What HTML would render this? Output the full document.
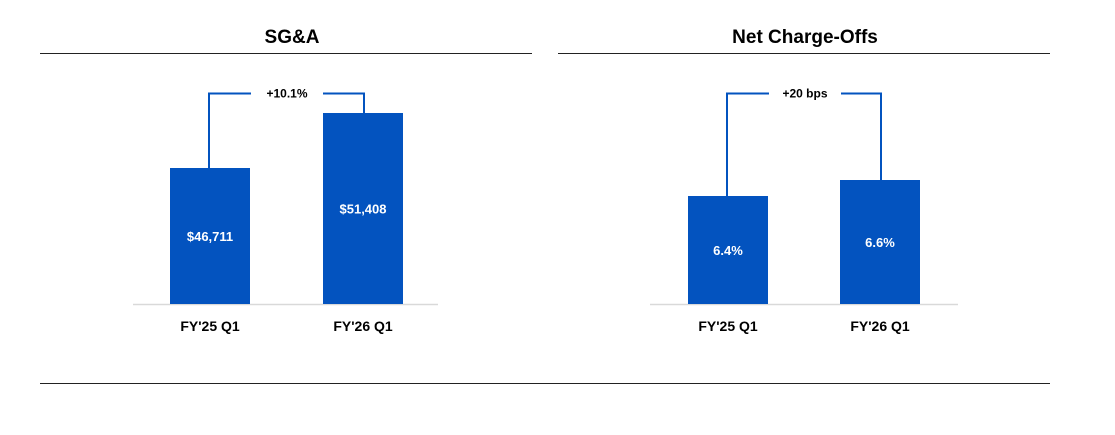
<!DOCTYPE html>
<html><head><meta charset="utf-8"><style>
body{margin:0;background:#fff;font-family:"Liberation Sans",Arial,sans-serif;}
svg text{font-family:"Liberation Sans",Arial,sans-serif;}
</style></head><body>
<svg width="1115" height="430" viewBox="0 0 1115 430" xmlns="http://www.w3.org/2000/svg">
<rect width="1115" height="430" fill="#fff"/>
<text x="292" y="43" text-anchor="middle" font-size="19" font-weight="bold" fill="#000">SG&amp;A</text>
<line x1="40" y1="53.5" x2="532" y2="53.5" stroke="#222" stroke-width="1"/>
<text x="805" y="43" text-anchor="middle" font-size="19" font-weight="bold" fill="#000">Net Charge-Offs</text>
<line x1="558" y1="53.5" x2="1050" y2="53.5" stroke="#222" stroke-width="1"/>
<line x1="40" y1="383.5" x2="1050" y2="383.5" stroke="#222" stroke-width="1"/>
<g id="sga"></g>
<g id="nco"></g>
</svg>
<script>
const sgaCategories = ["FY'25 Q1", "FY'26 Q1"];
const sgaValues = [46711, 51408];
const sgaLabels = ["$46,711", "$51,408"];
const sgaChange = "+10.1%";
const ncoCategories = ["FY'25 Q1", "FY'26 Q1"];
const ncoValues = [6.4, 6.6];
const ncoLabels = ["6.4%", "6.6%"];
const ncoChange = "+20 bps";

const NS = "http://www.w3.org/2000/svg";
function mk(parent, tag, attrs, text){
  const e = document.createElementNS(NS, tag);
  for (const k in attrs) e.setAttribute(k, attrs[k]);
  if (text !== undefined) e.textContent = text;
  parent.appendChild(e);
  return e;
}
function draw(gid, cats, vals, labels, change, cfg, prefix){
  const g = document.getElementById(gid);
  const base = 304;
  const y = v => base - (v - cfg.min) * cfg.scale;
  const color = "#0353bf";
  const ax = mk(g, "line", {x1: cfg.axisX0, y1: base + 0.5, x2: cfg.axisX1, y2: base + 0.5, stroke: "#d9d9d9", "stroke-width": 1.5});
  
  
  const tops = [];
  vals.forEach((v, i) => {
    const cx = cfg.centers[i];
    const top = y(v);
    tops.push(top);
    const r = mk(g, "rect", {x: cx - 40, y: top, width: 80, height: base - top, fill: color});
    
    
    const t = mk(g, "text", {x: cx, y: (top + base) / 2 + 5, "text-anchor": "middle", "font-size": 13, "font-weight": "bold", fill: "#fff"}, labels[i]);
    
    
    const c = mk(g, "text", {x: cx, y: 331, "text-anchor": "middle", "font-size": 14, "font-weight": "bold", fill: "#000"}, cats[i]);
    
    
  });
  const by = 93.5;
  const x1 = cfg.centers[0] - 1, x2 = cfg.centers[1] + 1;
  const mid = cfg.labelX;
  const hw = cfg.gap;
  const p = mk(g, "path", {d: `M${x1},${tops[0]} V${by} H${mid - hw} M${mid + hw},${by} H${x2} V${tops[1]}`, fill: "none", stroke: color, "stroke-width": 2});
  
  
  const ct = mk(g, "text", {x: mid, y: by + 4, "text-anchor": "middle", "font-size": 12, "font-weight": "bold", fill: "#000"}, change);
  
  
}
draw("sga", sgaCategories, sgaValues, sgaLabels, sgaChange, {min: 35097, scale: 0.01171, centers: [210, 363], axisX0: 133, axisX1: 438, labelX: 287, gap: 36}, "sga");
draw("nco", ncoCategories, ncoValues, ncoLabels, ncoChange, {min: 5.05, scale: 80, centers: [728, 880], axisX0: 650, axisX1: 958, labelX: 805, gap: 36}, "nco");
</script>
</body></html>
